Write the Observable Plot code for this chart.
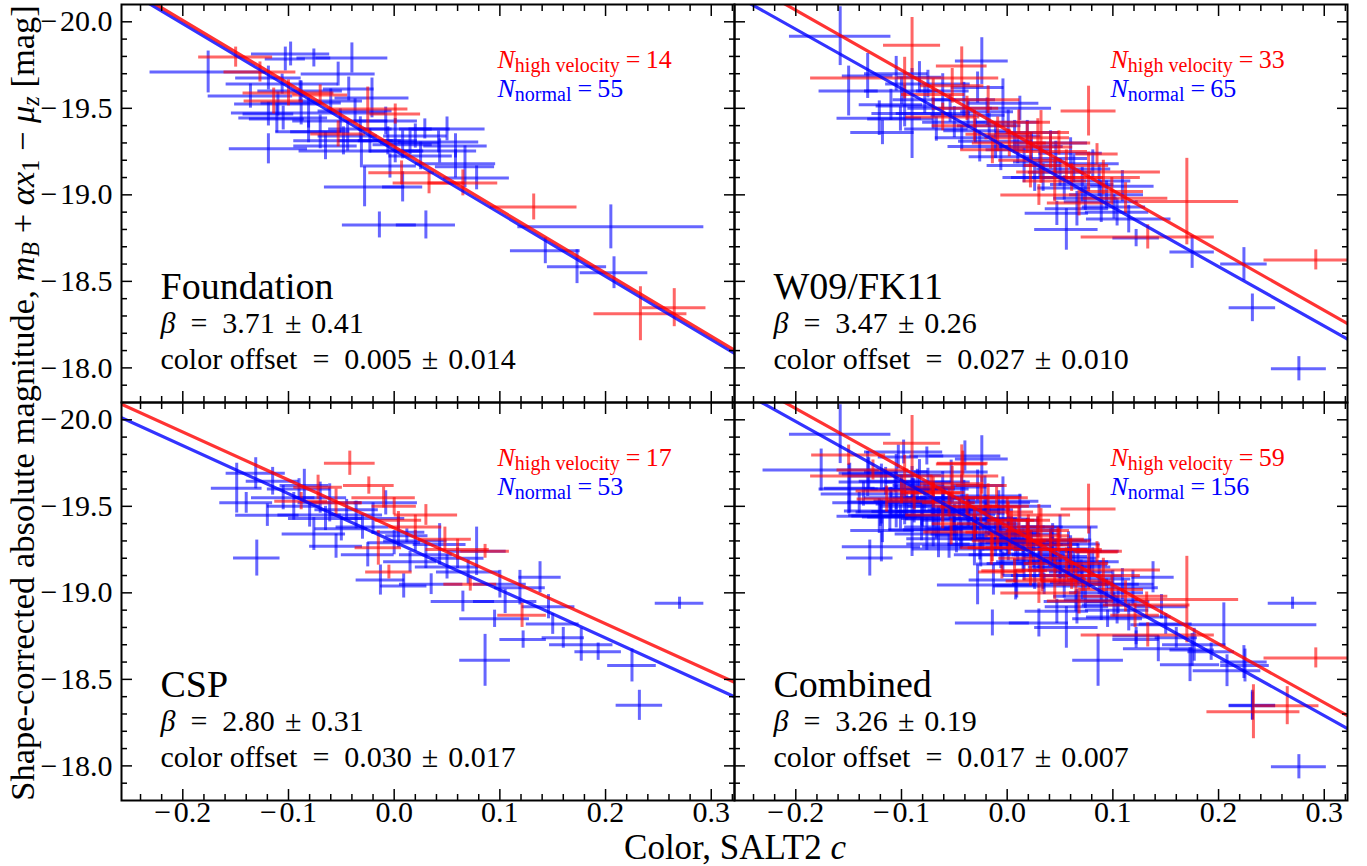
<!DOCTYPE html>
<html>
<head>
<meta charset="utf-8">
<script src="https://cdn.jsdelivr.net/npm/d3@7"></script>
<script src="https://cdn.jsdelivr.net/npm/@observablehq/plot@0.6"></script>
<style>
  html, body { margin: 0; padding: 0; background: #fff; }
  #wrap { position: relative; width: 1367px; height: 866px; overflow: hidden; font-family: "Liberation Serif", "DejaVu Serif", "Noto Serif", Times, serif; color: #000; }
  #wrap svg { position: absolute; left: 0; top: 0; }
  .axlab { position: absolute; white-space: nowrap; line-height: 24px; }
  .axlab sub { font-size: 0.7em; vertical-align: -0.22em; line-height: 0; }
  #xlab { font-size: 35px; left: 735px; top: 836px; transform: translateX(-50%); }
  #ylab { font-size: 34.5px; left: 0; top: 0; width: 866px; text-align: center; transform-origin: 0 0; transform: translate(10px, 836px) rotate(-90deg); }
</style>
</head>
<body>
<div id="wrap">
  <div id="xlab" class="axlab">Color, SALT2 <i>c</i></div>
  <div id="ylab" class="axlab">Shape-corrected absolute magnitude, <i>m</i><sub><i>B</i></sub> + <i>αx</i><sub>1</sub> − <i>μ</i><sub><i>z</i></sub> [mag]</div>
</div>
<script>
// ---------- axes ----------
const xDomain = [-0.258, 0.322];
const yDomain = [-20.1, -17.8];
const xMajor = [-0.2, -0.1, 0.0, 0.1, 0.2, 0.3];
const xMinor = [-0.24, -0.22, -0.18, -0.16, -0.14, -0.12, -0.08, -0.06, -0.04, -0.02, 0.02, 0.04, 0.06, 0.08, 0.12, 0.14, 0.16, 0.18, 0.22, 0.24, 0.26, 0.28, 0.32];
const yMajor = [-20.0, -19.5, -19.0, -18.5, -18.0];
const yMinor = [-19.9, -19.8, -19.7, -19.6, -19.4, -19.3, -19.2, -19.1, -18.9, -18.8, -18.7, -18.6, -18.4, -18.3, -18.2, -18.1, -17.9];

// ---------- panels ----------
const panelNames = ["Foundation", "W09/FK11", "CSP", "Combined"];
const panelCols = ["L", "R", "L", "R"];
const panelRows = ["T", "T", "B", "B"];
const betaText = ["3.71 ± 0.41", "3.47 ± 0.26", "2.80 ± 0.31", "3.26 ± 0.19"];
const offsetText = ["0.005 ± 0.014", "0.027 ± 0.010", "0.030 ± 0.017", "0.017 ± 0.007"];
const nHigh = [14, 33, 17, 59];
const nNormal = [55, 65, 53, 156];

// fit lines: M = zero + slope * c
const fitSlopeNormal = [3.65, 3.43, 2.78, 3.40];
const fitSlopeHigh = [3.65, 3.47, 2.77, 3.40];
const fitZeroNormal = [-19.259, -19.271, -19.295, -19.310];
const fitZeroHigh = [-19.278, -19.373, -19.375, -19.385];

// ---------- data: [color c, magnitude M, c error, M error] ----------
const fndNormal = [
[-0.176,-19.710,0.055,0.121],[-0.098,-19.814,0.037,0.069],[-0.040,-19.791,0.034,0.087],[-0.076,-19.791,0.016,0.052],
[-0.103,-19.785,0.019,0.069],[-0.053,-19.698,0.035,0.069],[-0.119,-19.675,0.031,0.069],[-0.106,-19.640,0.053,0.058],
[-0.088,-19.531,0.038,0.127],[-0.043,-19.612,0.024,0.069],[-0.021,-19.560,0.035,0.115],[-0.081,-19.473,0.073,0.087],
[-0.110,-19.525,0.041,0.069],[-0.119,-19.467,0.024,0.069],[-0.111,-19.439,0.026,0.081],[-0.105,-19.444,0.042,0.069],
[-0.081,-19.364,0.031,0.063],[-0.070,-19.364,0.028,0.098],[-0.044,-19.340,0.028,0.087],[-0.119,-19.266,0.037,0.087],
[-0.031,-19.254,0.059,0.098],[-0.048,-19.312,0.047,0.081],[-0.028,-19.046,0.038,0.115],[-0.014,-18.826,0.035,0.075],
[0.030,-18.826,0.028,0.081],[-0.006,-19.312,0.028,0.081],[0.001,-19.254,0.024,0.069],[0.008,-19.289,0.028,0.081],
[0.029,-19.381,0.024,0.058],[0.015,-19.300,0.028,0.069],[0.050,-19.381,0.036,0.069],[0.042,-19.306,0.038,0.063],
[0.058,-19.179,0.038,0.081],[0.067,-19.162,0.028,0.121],[0.078,-19.098,0.031,0.069],[0.008,-19.046,0.019,0.087],
[0.205,-18.815,0.088,0.127],[0.143,-18.677,0.033,0.075],[0.173,-18.585,0.028,0.098],[0.208,-18.550,0.032,0.092],
[-0.060,-19.542,0.030,0.070],[-0.037,-19.485,0.035,0.070],[-0.008,-19.427,0.030,0.080],[-0.089,-19.600,0.040,0.060],
[0.020,-19.340,0.030,0.070],[-0.051,-19.427,0.045,0.070],[0.001,-19.381,0.035,0.060],[-0.065,-19.283,0.030,0.080],
[-0.032,-19.381,0.030,0.070],[0.025,-19.225,0.030,0.080],[-0.004,-19.167,0.025,0.070],[0.043,-19.254,0.035,0.070],
[-0.136,-19.571,0.040,0.070],[-0.023,-19.312,0.030,0.070],[0.058,-19.283,0.030,0.070]
];
const fndHigh = [
[-0.150,-19.796,0.035,0.058],[-0.127,-19.710,0.034,0.058],[-0.100,-19.589,0.043,0.075],[-0.114,-19.542,0.028,0.075],
[-0.070,-19.577,0.026,0.058],[-0.025,-19.496,0.038,0.127],[-0.053,-19.352,0.026,0.075],[0.007,-19.127,0.031,0.069],
[0.033,-19.069,0.034,0.063],[0.065,-19.069,0.033,0.075],[0.132,-18.930,0.041,0.075],[0.233,-18.313,0.044,0.156],
[0.265,-18.348,0.030,0.110],[0.001,-19.467,0.024,0.058]
];
const w09Normal = [
[-0.158,-19.917,0.048,0.170],[-0.132,-19.687,0.024,0.130],[-0.150,-19.600,0.028,0.144],[-0.121,-19.443,0.040,0.100],
[-0.090,-19.470,0.038,0.260],[-0.024,-19.773,0.025,0.135],[-0.083,-19.680,0.021,0.090],[-0.004,-19.530,0.034,0.140],
[-0.097,-19.513,0.027,0.120],[-0.101,-19.438,0.031,0.070],[0.175,-18.670,0.021,0.095],[0.224,-18.600,0.022,0.095],
[0.232,-18.347,0.022,0.080],[0.276,-17.995,0.026,0.070],[0.122,-18.750,0.022,0.050],[0.089,-18.960,0.035,0.120],
[0.104,-18.900,0.030,0.080],[0.047,-18.893,0.030,0.070],[-0.078,-19.550,0.030,0.080],[-0.070,-19.470,0.035,0.090],
[-0.067,-19.380,0.030,0.070],[-0.061,-19.600,0.025,0.100],[-0.054,-19.500,0.040,0.080],[-0.050,-19.420,0.030,0.090],
[-0.043,-19.330,0.025,0.070],[-0.041,-19.550,0.030,0.100],[-0.037,-19.460,0.035,0.080],[-0.030,-19.370,0.030,0.070],
[-0.026,-19.280,0.030,0.090],[-0.019,-19.480,0.025,0.080],[-0.017,-19.400,0.030,0.070],[-0.011,-19.310,0.035,0.100],
[-0.006,-19.220,0.030,0.080],[0.001,-19.420,0.030,0.070],[0.007,-19.340,0.025,0.090],[0.010,-19.260,0.030,0.080],
[0.016,-19.170,0.035,0.100],[0.019,-19.360,0.030,0.070],[0.023,-19.280,0.030,0.080],[0.031,-19.190,0.025,0.090],
[0.034,-19.100,0.030,0.080],[0.041,-19.300,0.035,0.070],[0.046,-19.210,0.030,0.100],[0.050,-19.130,0.030,0.080],
[0.054,-19.040,0.025,0.070],[0.060,-19.240,0.030,0.090],[0.063,-19.150,0.035,0.080],[0.071,-19.060,0.030,0.100],
[0.074,-18.980,0.030,0.070],[0.081,-19.180,0.025,0.080],[0.087,-19.080,0.030,0.090],[0.094,-19.000,0.035,0.080],
[0.101,-18.930,0.030,0.070],[0.109,-19.050,0.030,0.090],[-0.100,-19.600,0.035,0.080],[-0.110,-19.520,0.030,0.090],
[-0.105,-19.700,0.030,0.100],[-0.075,-19.640,0.040,0.080],[0.012,-19.500,0.030,0.070],[-0.028,-19.620,0.025,0.090],
[0.066,-18.920,0.030,0.100],[0.115,-18.860,0.040,0.080],[0.026,-19.100,0.030,0.080],[-0.118,-19.360,0.030,0.070],
[0.056,-18.800,0.030,0.120]
];
const w09High = [
[-0.090,-19.865,0.027,0.160],[-0.097,-19.675,0.089,0.120],[-0.043,-19.745,0.024,0.110],[0.077,-19.484,0.026,0.144],
[0.170,-18.961,0.049,0.250],[0.133,-18.757,0.063,0.070],[0.292,-18.624,0.049,0.058],[0.077,-19.132,0.068,0.115],
[0.030,-18.999,0.036,0.060],[0.068,-18.953,0.030,0.075],[0.085,-19.236,0.020,0.060],[0.032,-19.277,0.030,0.210],
[0.022,-19.200,0.030,0.160],[-0.070,-19.580,0.030,0.090],[-0.061,-19.450,0.035,0.080],[-0.052,-19.630,0.030,0.100],
[-0.038,-19.500,0.030,0.070],[-0.031,-19.400,0.040,0.090],[-0.018,-19.550,0.030,0.080],[-0.009,-19.350,0.030,0.100],
[0.002,-19.300,0.035,0.080],[0.011,-19.420,0.030,0.070],[0.019,-19.330,0.040,0.090],[0.029,-19.360,0.030,0.080],
[0.041,-19.250,0.035,0.100],[0.049,-19.300,0.030,0.070],[0.056,-19.170,0.040,0.090],[0.061,-19.100,0.030,0.080],
[0.091,-19.100,0.035,0.100],[0.099,-19.020,0.030,0.080],[0.112,-18.980,0.040,0.090],[0.045,-19.080,0.030,0.120],
[-0.014,-19.260,0.030,0.080]
];
const cspNormal = [
[-0.149,-19.605,0.024,0.144],[-0.131,-19.691,0.028,0.090],[-0.115,-19.645,0.025,0.080],[-0.085,-19.620,0.023,0.094],
[-0.130,-19.201,0.022,0.104],[-0.120,-19.449,0.030,0.065],[-0.076,-19.340,0.030,0.095],[-0.061,-19.520,0.030,0.110],
[-0.050,-19.370,0.025,0.070],[-0.036,-19.450,0.025,0.080],[-0.013,-19.074,0.023,0.087],[0.009,-19.040,0.022,0.070],
[0.004,-19.350,0.025,0.090],[0.012,-19.330,0.020,0.040],[0.078,-19.240,0.028,0.140],[0.043,-19.280,0.025,0.120],
[0.119,-19.030,0.024,0.100],[0.138,-19.090,0.020,0.090],[0.146,-18.920,0.025,0.070],[0.095,-18.850,0.033,0.050],
[0.086,-18.610,0.024,0.150],[0.122,-18.730,0.022,0.050],[0.160,-18.740,0.020,0.060],[0.177,-18.700,0.030,0.095],
[0.193,-18.660,0.022,0.050],[0.225,-18.580,0.023,0.095],[0.232,-18.350,0.022,0.087],[0.270,-18.940,0.023,0.035],
[-0.105,-19.550,0.030,0.070],[-0.095,-19.500,0.025,0.080],[-0.090,-19.600,0.030,0.060],[-0.080,-19.450,0.030,0.070],
[-0.070,-19.550,0.025,0.090],[-0.065,-19.430,0.035,0.070],[-0.045,-19.480,0.030,0.060],[-0.030,-19.380,0.025,0.070],
[-0.020,-19.430,0.030,0.090],[0.000,-19.290,0.025,0.070],[0.020,-19.300,0.030,0.060],[0.030,-19.220,0.025,0.080],
[0.050,-19.150,0.030,0.070],[0.060,-19.200,0.025,0.060],[0.070,-19.120,0.030,0.070],[0.100,-19.050,0.025,0.080],
[0.105,-18.950,0.030,0.070],[-0.055,-19.270,0.025,0.070],[0.035,-19.050,0.030,0.060],[-0.140,-19.520,0.025,0.060],
[0.015,-19.180,0.025,0.060],[-0.008,-19.520,0.030,0.070],[0.150,-18.820,0.025,0.060],[0.065,-18.950,0.030,0.060],
[-0.025,-19.220,0.025,0.070]
];
const cspHigh = [
[-0.042,-19.749,0.024,0.070],[-0.072,-19.610,0.023,0.070],[-0.024,-19.620,0.024,0.050],[-0.088,-19.530,0.025,0.050],
[0.000,-19.500,0.021,0.050],[-0.015,-19.260,0.022,0.100],[-0.005,-19.120,0.022,0.040],[0.004,-19.420,0.022,0.050],
[0.048,-19.310,0.025,0.070],[0.086,-19.240,0.023,0.040],[0.072,-19.050,0.025,0.040],[0.121,-18.870,0.023,0.070],
[-0.010,-19.550,0.030,0.060],[0.020,-19.380,0.025,0.070],[0.060,-19.250,0.030,0.060],[-0.055,-19.520,0.025,0.080],
[0.030,-19.450,0.030,0.060]
];

// ---------- build tables ----------
const normalSets = [fndNormal, w09Normal, cspNormal, [...fndNormal, ...w09Normal, ...cspNormal]];
const highSets = [fndHigh, w09High, cspHigh, [...fndHigh, ...w09High, ...cspHigh]];
const pts = [];
const fits = [];
const annot = [];
panelNames.forEach((name, i) => {
  const col = panelCols[i], row = panelRows[i];
  for (const [c, M, xe, ye] of normalSets[i]) pts.push({col, row, type: "normal", c, M, xe, ye});
  for (const [c, M, xe, ye] of highSets[i]) pts.push({col, row, type: "high", c, M, xe, ye});
  for (const c of xDomain) {
    fits.push({col, row, type: "normal", c, M: fitZeroNormal[i] + fitSlopeNormal[i] * c});
    fits.push({col, row, type: "high", c, M: fitZeroHigh[i] + fitSlopeHigh[i] * c});
  }
  const [b1, b2] = betaText[i].split(" ± ");
  const [o1, o2] = offsetText[i].split(" ± ");
  annot.push({
    col, row, name,
    beta: "β\u2002=\u2002" + b1 + "\u2004±\u2004" + b2,
    off: "color offset\u2002=\u2002" + o1 + "\u2004±\u2004" + o2,
    nh: "N_{high velocity}=\u2009" + nHigh[i],
    nn: "N_{normal}=\u2009" + nNormal[i]
  });
});

const BLUE = "#0000ff", RED = "#ff0000";
const fmt1 = d3.format(".1f");
const tickFmt = d => d < 0 ? "\u2212\u200A" + fmt1(-d) : fmt1(d);
const F = {fx: "col", fy: "row"};

function errorBars(type, color) {
  const d = pts.filter(p => p.type === type);
  return [
    Plot.ruleY(d, {...F, y: "M", x1: p => p.c - p.xe, x2: p => p.c + p.xe, stroke: color, strokeOpacity: 0.6, strokeWidth: 3, clip: true}),
    Plot.ruleX(d, {...F, x: "c", y1: p => p.M - p.ye, y2: p => p.M + p.ye, stroke: color, strokeOpacity: 0.6, strokeWidth: 3, clip: true})
  ];
}
function tickAxes(size, xt, yt) {
  const o = {tickSize: size, tickFormat: () => "", label: null, facetAnchor: null, strokeWidth: 1.5};
  return [
    Plot.axisX({...o, anchor: "bottom", ticks: xt}),
    Plot.axisX({...o, anchor: "top", ticks: xt}),
    Plot.axisY({...o, anchor: "left", ticks: yt}),
    Plot.axisY({...o, anchor: "right", ticks: yt})
  ];
}

const chart = Plot.plot({
  width: 1367,
  height: 866,
  marginLeft: 121,
  marginRight: 19.5,
  marginTop: 3.5,
  marginBottom: 65,
  style: {fontFamily: "'Liberation Serif', 'DejaVu Serif', 'Noto Serif', Times, serif", fontSize: "30px", background: "#fff", color: "#000", overflow: "visible"},
  x: {domain: xDomain},
  y: {domain: yDomain, reverse: true},
  fx: {domain: ["L", "R"], padding: 0, axis: null, label: null},
  fy: {domain: ["T", "B"], padding: 0, axis: null, label: null},
  marks: [
    ...errorBars("normal", BLUE),
    ...errorBars("high", RED),
    Plot.line(fits.filter(d => d.type === "normal"), {...F, x: "c", y: "M", stroke: BLUE, strokeOpacity: 0.8, strokeWidth: 3.2, clip: true}),
    Plot.line(fits.filter(d => d.type === "high"), {...F, x: "c", y: "M", stroke: RED, strokeOpacity: 0.8, strokeWidth: 3.2, clip: true}),
    Plot.text(annot, {...F, frameAnchor: "bottom-left", text: "name", dx: 39, dy: -104, textAnchor: "start", lineAnchor: "bottom", fontSize: 38}),
    Plot.text(annot, {...F, frameAnchor: "bottom-left", text: "beta", dx: 39, dy: -70, textAnchor: "start", lineAnchor: "bottom", fontSize: 30}),
    Plot.text(annot, {...F, frameAnchor: "bottom-left", text: "off", dx: 39, dy: -34, textAnchor: "start", lineAnchor: "bottom", fontSize: 30}),
    Plot.text(annot, {...F, frameAnchor: "top-left", text: "nh", dx: 376, dy: 63.5, textAnchor: "start", lineAnchor: "bottom", fontSize: 26, fill: RED}),
    Plot.text(annot, {...F, frameAnchor: "top-left", text: "nn", dx: 376, dy: 92.5, textAnchor: "start", lineAnchor: "bottom", fontSize: 26, fill: BLUE}),
    Plot.axisX({anchor: "bottom", ticks: xMajor, tickSize: 0, tickPadding: 0, tickFormat: tickFmt, fontSize: 30, label: null}),
    Plot.axisY({anchor: "left", ticks: yMajor, tickSize: 0, tickPadding: 9, tickFormat: tickFmt, fontSize: 30, label: null}),
    ...tickAxes(-11, xMajor, yMajor),
    ...tickAxes(-6, xMinor, yMinor),
    Plot.frame({stroke: "#000", strokeWidth: 2})
  ]
});

document.getElementById("wrap").prepend(chart);

// rich text: italic N / β, subscripts
const NS = "http://www.w3.org/2000/svg";
function tspan(parent, text, attrs, style) {
  const t = document.createElementNS(NS, "tspan");
  for (const k in attrs) t.setAttribute(k, attrs[k]);
  if (style) t.setAttribute("style", style);
  t.textContent = text;
  parent.appendChild(t);
}
chart.querySelectorAll("text").forEach(el => {
  const s = el.textContent;
  const m = s.match(/^N_\{(.+?)\}(.*)$/);
  if (m) {
    el.textContent = "";
    tspan(el, "N", {"font-style": "italic"});
    tspan(el, m[1], {dy: "4"}, "font-size:20px");
    tspan(el, m[2], {dy: "-4", dx: "6"});
  } else if (s.startsWith("β")) {
    el.textContent = "";
    tspan(el, "β", {"font-style": "italic"});
    tspan(el, s.slice(1), {});
  }
});
</script>
</body>
</html>
